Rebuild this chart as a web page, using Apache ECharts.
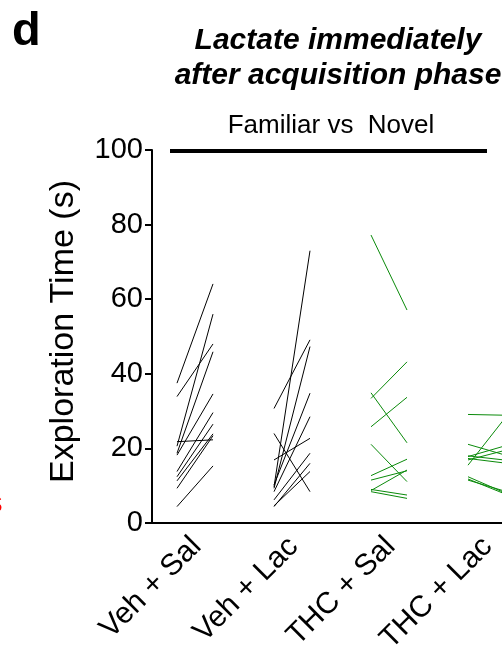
<!DOCTYPE html>
<html>
<head>
<meta charset="utf-8">
<script src="https://cdn.jsdelivr.net/npm/echarts@6/dist/echarts.min.js"></script>
<style>html,body{margin:0;padding:0;background:#fff;}#c{width:502px;height:652px;}</style>
</head>
<body>
<div id="c"></div>
<script>
// ---- data ----
var groups = ["Veh + Sal", "Veh + Lac", "THC + Sal", "THC + Lac"];
var yTicks = [0, 20, 40, 60, 80, 100];

var vehSalFamiliar = [37.5, 33.9, 20.6, 18.7, 21.8, 18.2, 13.8, 12.4, 11.3, 9.3, 4.4];
var vehSalNovel    = [64.1, 48.0, 56.0, 45.9, 22.3, 34.6, 29.6, 26.5, 23.9, 23.4, 15.3];

var vehLacFamiliar = [30.7, 24.0, 16.9, 9.3, 10.2, 9.7, 8.4, 6.2, 4.4, 4.6];
var vehLacNovel    = [49.1, 8.4, 22.7, 47.3, 34.8, 73.0, 28.5, 18.7, 16.0, 13.8];

var thcSalFamiliar = [77.2, 33.4, 25.8, 34.9, 21.1, 12.7, 11.5, 8.7, 9.0, 8.4];
var thcSalNovel    = [57.1, 43.2, 33.7, 21.5, 11.1, 17.1, 14.0, 14.2, 7.5, 6.6];

var thcLacFamiliar = [29.1, 15.5, 21.1, 17.8, 17.3, 18.0, 12.4, 11.8, 11.5, 16.9];
var thcLacNovel    = [28.9, 27.8, 18.3, 20.6, 16.1, 16.9, 8.2, 7.9, 8.6, 19.4];

var groupFamiliar = [vehSalFamiliar, vehLacFamiliar, thcSalFamiliar, thcLacFamiliar];
var groupNovel = [vehSalNovel, vehLacNovel, thcSalNovel, thcLacNovel];
var groupColors = ["#000000", "#000000", "#0a8a0a", "#0a8a0a"];

// ---- layout ----
var FONT = "Liberation Sans, Arial, Helvetica, sans-serif";
var famOff = 25 / 97, novOff = 61 / 97;

var series = [];
for (var g = 0; g < 4; g++) {
  for (var i = 0; i < groupFamiliar[g].length; i++) {
    series.push({
      type: "line",
      xAxisIndex: 0, yAxisIndex: 0,
      data: [[g + famOff, groupFamiliar[g][i]], [g + novOff, groupNovel[g][i]]],
      symbol: "none",
      silent: true,
      animation: false,
      lineStyle: { color: groupColors[g], width: 1 }
    });
  }
}

var chart = echarts.init(document.getElementById("c"), null, { renderer: "canvas" });
chart.setOption({
  backgroundColor: "#fff",
  animation: false,
  title: {
    text: "Lactate immediately\nafter acquisition phase",
    left: 333, top: 18, textAlign: "center",
    textStyle: { fontFamily: FONT, fontSize: 30, fontWeight: "bold", fontStyle: "italic", color: "#000", lineHeight: 35 }
  },
  grid: [
    { left: 152, top: 150, bottom: 129, right: -38, containLabel: false, outerBoundsMode: "none" },
    { left: 148, top: 150, bottom: 129, right: -34, containLabel: false, outerBoundsMode: "none" }
  ],
  xAxis: [
    { type: "value", gridIndex: 0, min: 0, max: 4,
      axisLine: { show: true, onZero: false, lineStyle: { color: "#000", width: 2 } },
      axisTick: { show: false }, axisLabel: { show: false }, splitLine: { show: false } },
    { type: "category", gridIndex: 1, data: groups, offset: 5,
      axisLine: { show: false }, axisTick: { show: false }, splitLine: { show: false },
      axisLabel: { interval: 0, rotate: 45, margin: 14, color: "#000", fontFamily: FONT, fontSize: 30, hideOverlap: false } }
  ],
  yAxis: [
    { type: "value", gridIndex: 0, min: 0, max: 100, interval: 20,
      name: "Exploration Time (s)", nameLocation: "middle", nameGap: 71,
      nameTextStyle: { fontFamily: FONT, fontSize: 34, color: "#000", padding: [0, 0, 0, 10] },
      axisLine: { show: true, lineStyle: { color: "#000", width: 2 } },
      axisTick: { show: true, inside: false, length: 7, lineStyle: { color: "#000", width: 2 } },
      axisLabel: { margin: 9, color: "#000", fontFamily: FONT, fontSize: 29,
        formatter: function (v) { return yTicks.indexOf(v) >= 0 ? String(v) : ""; } },
      splitLine: { show: false } },
    { type: "value", gridIndex: 1, min: 0, max: 100, show: false }
  ],
  graphic: [
    { type: "text", left: 12, top: 9, style: { text: "d", fontFamily: FONT, fontSize: 47, fontWeight: "bold", fill: "#000" } },
    { type: "text", x: 331, y: 126, style: { text: "Familiar vs  Novel", fontFamily: FONT, fontSize: 26, fill: "#000", align: "center", verticalAlign: "middle" } },
    { type: "line", shape: { x1: 170, y1: 151, x2: 487, y2: 151 }, style: { stroke: "#000", lineWidth: 4 } },
    { type: "text", x: -12, y: 504, style: { text: "s", fontFamily: FONT, fontSize: 29, fill: "#ff0000", verticalAlign: "middle" } }
  ],
  series: series
});
</script>
</body>
</html>
